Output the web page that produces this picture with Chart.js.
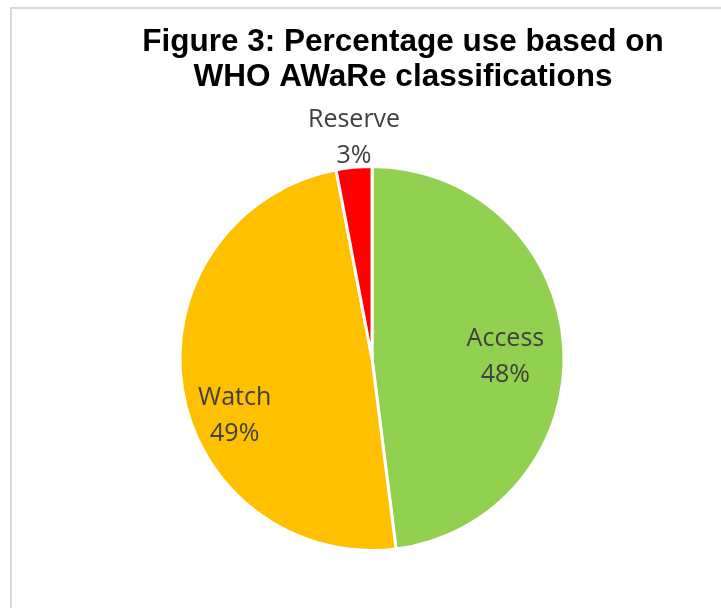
<!DOCTYPE html>
<html>
<head>
<meta charset="utf-8">
<script src="https://cdn.jsdelivr.net/npm/chart.js@4"></script>
<style>
    html, body { margin: 0; padding: 0; overflow: hidden; background: #fff; }
    #frame { position: absolute; left: 10px; top: 7px; width: 900px; height: 800px;
             border-left: 2px solid #d9d9d9; border-top: 2px solid #d9d9d9; }
    #wrap { position: absolute; left: 0; top: 0; width: 721px; height: 608px; }
</style>
</head>
<body>
<div id="frame"></div>
<div id="wrap"><canvas id="pie-chart" width="721" height="608"></canvas></div>
<script>
// data
var categories = ["Access", "Watch", "Reserve"];
var percentUse = [48, 49, 3];
var sliceColors = ["#92D050", "#FFC000", "#FF0000"];

// where each label sits: share of the radius and a turn (degrees) off the slice middle
var labelPlace = [
    { r: 0.695, turn: 2 },
    { r: 0.77, turn: -12.8 },
    { r: 1.166, turn: 0.8 }
];

// title is a little right of the pie in the original
var titleShift = 31;

var shiftTitle = {
    id: 'shiftTitle',
    afterLayout: function (chart) {
        if (chart.titleBlock) {
            chart.titleBlock.left += titleShift;
            chart.titleBlock.right += titleShift;
        }
    }
};

var sliceLabels = {
    id: 'sliceLabels',
    afterDatasetsDraw: function (chart) {
        var ctx = chart.ctx;
        var meta = chart.getDatasetMeta(0);
        ctx.save();
        ctx.font = '25px "Open Sans"';
        ctx.fillStyle = '#404040';
        ctx.textAlign = 'center';
        ctx.textBaseline = 'alphabetic';
        meta.data.forEach(function (arc, i) {
            var p = arc.getProps(['x', 'y', 'startAngle', 'endAngle', 'outerRadius'], true);
            var a = (p.startAngle + p.endAngle) / 2 + labelPlace[i].turn * Math.PI / 180;
            var d = p.outerRadius * labelPlace[i].r;
            var cx = p.x + Math.cos(a) * d;
            var cy = p.y + Math.sin(a) * d;
            ctx.fillText(categories[i], cx, cy - 8.5);
            ctx.fillText(percentUse[i] + '%', cx, cy + 27.5);
        });
        ctx.restore();
    }
};

new Chart(document.getElementById("pie-chart"), {
    type: 'pie',
    data: {
        labels: categories,
        datasets: [
            {
                backgroundColor: sliceColors,
                borderColor: '#ffffff',
                borderWidth: 3,
                data: percentUse
            }
        ]
    },
    options: {
        responsive: false,
        animation: false,
        layout: {
            padding: { left: 23, right: 0, top: 0, bottom: 56 }
        },
        plugins: {
            legend: { display: false },
            tooltip: { enabled: false },
            title: {
                display: true,
                text: ['Figure 3: Percentage use based on', 'WHO AWaRe classifications'],
                color: '#000000',
                font: { family: '"Liberation Sans", Arial, sans-serif', size: 31.5, weight: 'bold', lineHeight: 1.11 },
                padding: { top: 25, bottom: 70 }
            }
        }
    },
    plugins: [shiftTitle, sliceLabels]
});
</script>
</body>
</html>
